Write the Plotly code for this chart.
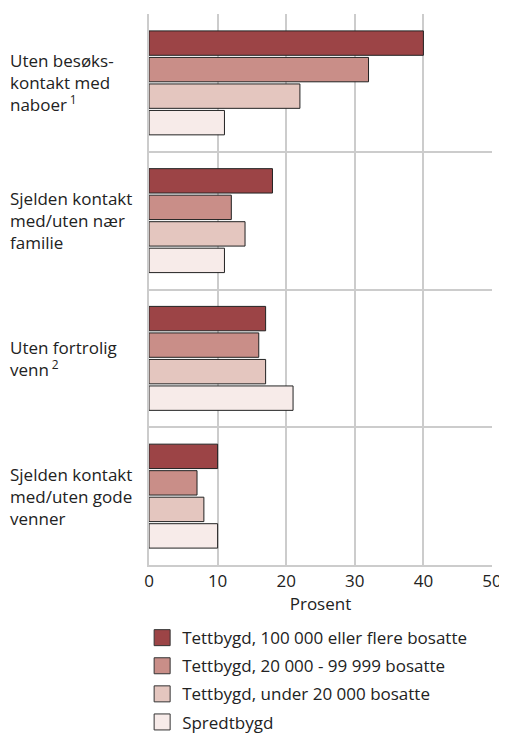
import plotly.graph_objects as go

categories = ["Uten besøks-<br>kontakt med<br>naboer\u2009<sup>1</sup>",
              "Sjelden kontakt<br>med/uten nær<br>familie",
              "Uten fortrolig<br>venn\u2009<sup>2</sup>",
              "Sjelden kontakt<br>med/uten gode<br>venner"]
cat_keys = ["c1", "c2", "c3", "c4"]
series_names = ["Tettbygd, 100 000 eller flere bosatte",
                "Tettbygd, 20 000 - 99 999 bosatte",
                "Tettbygd, under 20 000 bosatte",
                "Spredtbygd"]
s1 = [40, 18, 17, 10]
s2 = [32, 12, 16, 7]
s3 = [22, 14, 17, 8]
s4 = [11, 11, 21, 10]
colors = ["#9C4446", "#C98E88", "#E4C6BF", "#F7EBE9"]
x_ticks = [0, 10, 20, 30, 40, 50]

FONT = "Open Sans"
FS = 17
fig = go.Figure()
for i, (name, vals) in enumerate(zip(series_names, [s1, s2, s3, s4])):
    fig.add_trace(go.Bar(
        y=cat_keys, x=vals, orientation="h", name=name,
        marker=dict(color=colors[i], line=dict(color="#222222", width=1)),
        showlegend=False, hoverinfo="x"))
for i, name in enumerate(series_names):
    fig.add_trace(go.Scatter(
        x=[None], y=[None], mode="markers", name=name,
        marker=dict(symbol="square", size=16, color=colors[i],
                    line=dict(color="#333333", width=1)),
        legendgroup=f"g{i}", showlegend=True))

for key, label in zip(cat_keys, categories):
    fig.add_annotation(x=-0.41, xref="paper", y=key, yref="y", text=label,
                       showarrow=False, xanchor="left", align="left",
                       font=dict(family=FONT, size=FS, color="#222222"))

fig.update_layout(
    width=499, height=727,
    margin=dict(l=141, r=15, t=6, b=170, autoexpand=False),
    paper_bgcolor="white", plot_bgcolor="white",
    barmode="group", bargap=0.23, bargroupgap=0.08,
    font=dict(family=FONT, size=FS, color="#222222"),
    xaxis=dict(range=[0, 50], tickvals=x_ticks, showgrid=True,
               gridcolor="#CCCCCC", gridwidth=2, zeroline=False,
               showline=True, linecolor="#CCCCCC", linewidth=2,
               ticks="", title=dict(text="Prosent", standoff=2,
                                    font=dict(size=FS)),
               tickfont=dict(size=FS), automargin=False,
               fixedrange=True),
    yaxis=dict(categoryorder="array", categoryarray=cat_keys,
               autorange="reversed", showticklabels=False,
               tickson="boundaries", showgrid=True, gridcolor="#CCCCCC",
               gridwidth=2, showline=True, linecolor="#CCCCCC", linewidth=2,
               ticks="", zeroline=False, automargin=False),
    legend=dict(x=-0.02, xanchor="left", y=-0.100, yanchor="top",
                orientation="v", tracegroupgap=3,
                font=dict(family=FONT, size=FS, color="#222222")),
)
fig.write_html("out.html")
